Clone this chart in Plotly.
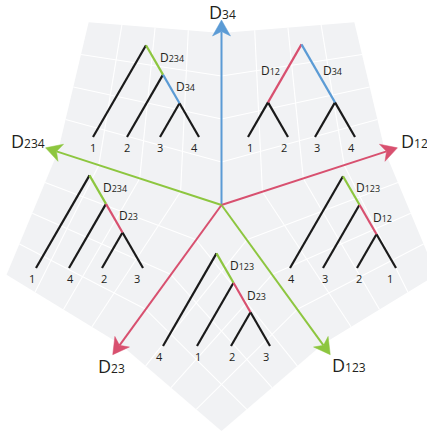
import math
import plotly.graph_objects as go

# ---------------- data ----------------
W, H = 427, 433
CX, CY = 221.5, 205.0          # cone point (origin of all five orthants)
INNER_R = 172                   # where panel edges meet the axes
OUTER_R = 226                   # outer corner of each panel
ARROW_R = 185                   # arrow tip distance
N_GRID = 4                      # grid divisions in each panel

BLUE = "#5b9bd5"
RED = "#d8506f"
GREEN = "#8dc63f"
INK = "#231f20"
PANEL = "#f1f2f4"

AXIS_NAMES = ["34", "12", "123", "23", "234"]
AXIS_ANGLES = [90, 18, -54, -126, 162]
SPLIT_COLORS = {"12": RED, "23": RED, "34": BLUE, "123": GREEN, "234": GREEN}
AXIS_LABEL_OFFSETS = [(1, -8.5), (17.5, -7), (19, 10), (-1.5, 11), (-18, -7)]

# Trees: topology, leaf order along baseline, leaf end x, baseline y, leaf label x
TREES = [
    dict(topology=("1", ("2", ("3", "4"))), leaves=["1", "2", "3", "4"],
         leaf_x=[93, 127, 160, 199], base=137, label_x=[93, 127, 160, 194], left_labels=[]),
    dict(topology=(("1", "2"), ("3", "4")), leaves=["1", "2", "3", "4"],
         leaf_x=[248, 288, 315, 355], base=137, label_x=[250, 284, 317, 351], left_labels=["12"]),
    dict(topology=("1", ("4", ("2", "3"))), leaves=["1", "4", "2", "3"],
         leaf_x=[36, 69, 102, 143], base=268, label_x=[32, 70, 104, 137], left_labels=[]),
    dict(topology=("4", ("1", ("2", "3"))), leaves=["4", "1", "2", "3"],
         leaf_x=[163, 197, 231, 270], base=346, label_x=[159, 198, 232, 266], left_labels=[]),
    dict(topology=("4", ("3", ("2", "1"))), leaves=["4", "3", "2", "1"],
         leaf_x=[290, 323, 357, 396], base=268, label_x=[291, 325, 359, 390], left_labels=[]),
]
SLOPE = math.tan(math.radians(60))
FONT = "Open Sans"

# ---------------- helpers ----------------
def pt(angle_deg, r):
    a = math.radians(angle_deg)
    return (CX + r * math.cos(a), CY - r * math.sin(a))

def bilinear(O, A, C, B, u, v):
    x = (1-u)*(1-v)*O[0] + u*(1-v)*A[0] + u*v*C[0] + (1-u)*v*B[0]
    y = (1-u)*(1-v)*O[1] + u*(1-v)*A[1] + u*v*C[1] + (1-u)*v*B[1]
    return x, y

fig = go.Figure()
annotations = []

# ---------------- panels + grid ----------------
O = (CX, CY)
gx, gy = [], []
for k in range(5):
    a1 = AXIS_ANGLES[k]
    a2 = AXIS_ANGLES[(k + 1) % 5]
    A = pt(a1, INNER_R)
    B = pt(a2, INNER_R)
    C = pt(a1 - 36, OUTER_R)
    fig.add_trace(go.Scatter(x=[O[0], A[0], C[0], B[0], O[0]], y=[O[1], A[1], C[1], B[1], O[1]],
                             mode="lines", fill="toself", fillcolor=PANEL,
                             line=dict(width=0, color=PANEL), hoverinfo="skip"))
    for i in range(1, N_GRID):
        t = i / N_GRID
        p0 = bilinear(O, A, C, B, t, 0); p1 = bilinear(O, A, C, B, t, 1)
        gx += [p0[0], p1[0], None]; gy += [p0[1], p1[1], None]
        p0 = bilinear(O, A, C, B, 0, t); p1 = bilinear(O, A, C, B, 1, t)
        gx += [p0[0], p1[0], None]; gy += [p0[1], p1[1], None]
fig.add_trace(go.Scatter(x=gx, y=gy, mode="lines", line=dict(color="white", width=1.1),
                         hoverinfo="skip"))

# ---------------- axes ----------------
HEAD_LEN, HEAD_HALF, NOTCH = 16, 9, 11.5
for name, ang, (ox, oy) in zip(AXIS_NAMES, AXIS_ANGLES, AXIS_LABEL_OFFSETS):
    col = SPLIT_COLORS[name]
    a = math.radians(ang)
    ux, uy = math.cos(a), -math.sin(a)
    px, py = -uy, ux
    tip = (CX + ARROW_R * ux, CY + ARROW_R * uy)
    back = (tip[0] - HEAD_LEN * ux, tip[1] - HEAD_LEN * uy)
    notch = (tip[0] - NOTCH * ux, tip[1] - NOTCH * uy)
    fig.add_trace(go.Scatter(x=[CX, notch[0]], y=[CY, notch[1]], mode="lines",
                             line=dict(color=col, width=2), hoverinfo="skip"))
    hx = [tip[0], back[0] + HEAD_HALF * px, notch[0], back[0] - HEAD_HALF * px, tip[0]]
    hy = [tip[1], back[1] + HEAD_HALF * py, notch[1], back[1] - HEAD_HALF * py, tip[1]]
    fig.add_trace(go.Scatter(x=hx, y=hy, mode="lines", fill="toself", fillcolor=col,
                             line=dict(color=col, width=0.5), hoverinfo="skip"))
    annotations.append(dict(x=tip[0] + ox, y=tip[1] + oy, xref="x", yref="y", showarrow=False,
                            text=f"D<span style='font-size:12px'>{name}</span>",
                            font=dict(family=FONT, size=18, color=INK),
                            xanchor="center", yanchor="middle", borderpad=0))

# ---------------- trees ----------------
def clade_name(leafset):
    return "".join(sorted(leafset))

for tree in TREES:
    xs = dict(zip(tree["leaves"], tree["leaf_x"]))
    base = tree["base"]
    segs = {}

    def place(node):
        if isinstance(node, str):
            return xs[node], base, {node}
        kids = [place(c) for c in node]
        leafset = set().union(*[k[2] for k in kids])
        lo = min(xs[l] for l in leafset); hi = max(xs[l] for l in leafset)
        x = (lo + hi) / 2
        y = base - (hi - lo) / 2 * SLOPE
        for kx, ky, kset in kids:
            cname = clade_name(kset)
            key = cname if (len(kset) > 1 and cname in SPLIT_COLORS) else None
            segs.setdefault(key, []).append(((x, y), (kx, ky)))
        return x, y, leafset

    place(tree["topology"])
    for key, lines in segs.items():
        col = SPLIT_COLORS[key] if key else "#1a1a1a"
        lx, ly = [], []
        for (p, q) in lines:
            lx += [p[0], q[0], None]; ly += [p[1], q[1], None]
        fig.add_trace(go.Scatter(x=lx, y=ly, mode="lines", line=dict(color=col, width=2.2),
                                 hoverinfo="skip"))
        if key:
            (p, q) = lines[0]
            mx, my = (p[0] + q[0]) / 2, (p[1] + q[1]) / 2
            left = key in tree["left_labels"]
            annotations.append(dict(x=mx + (-4 if left else 4), y=my - 2.5, xref="x", yref="y",
                                    showarrow=False,
                                    text=f"D<span style='font-size:9px'>{key}</span>",
                                    font=dict(family=FONT, size=12, color=INK),
                                    xanchor="right" if left else "left", yanchor="middle",
                                    borderpad=0))
    for lab, lxp in zip(tree["leaves"], tree["label_x"]):
        annotations.append(dict(x=lxp, y=base + 10, xref="x", yref="y", showarrow=False,
                                text=lab, font=dict(family=FONT, size=11, color=INK),
                                xanchor="center", yanchor="middle", borderpad=0))

fig.update_layout(
    width=W, height=H, autosize=False,
    margin=dict(l=0, r=0, t=0, b=0),
    paper_bgcolor="white", plot_bgcolor="white",
    showlegend=False,
    xaxis=dict(range=[0, W], visible=False, fixedrange=True),
    yaxis=dict(range=[H, 0], visible=False, fixedrange=True),
    annotations=annotations,
)
fig.write_html("out.html", config={"displayModeBar": False})
